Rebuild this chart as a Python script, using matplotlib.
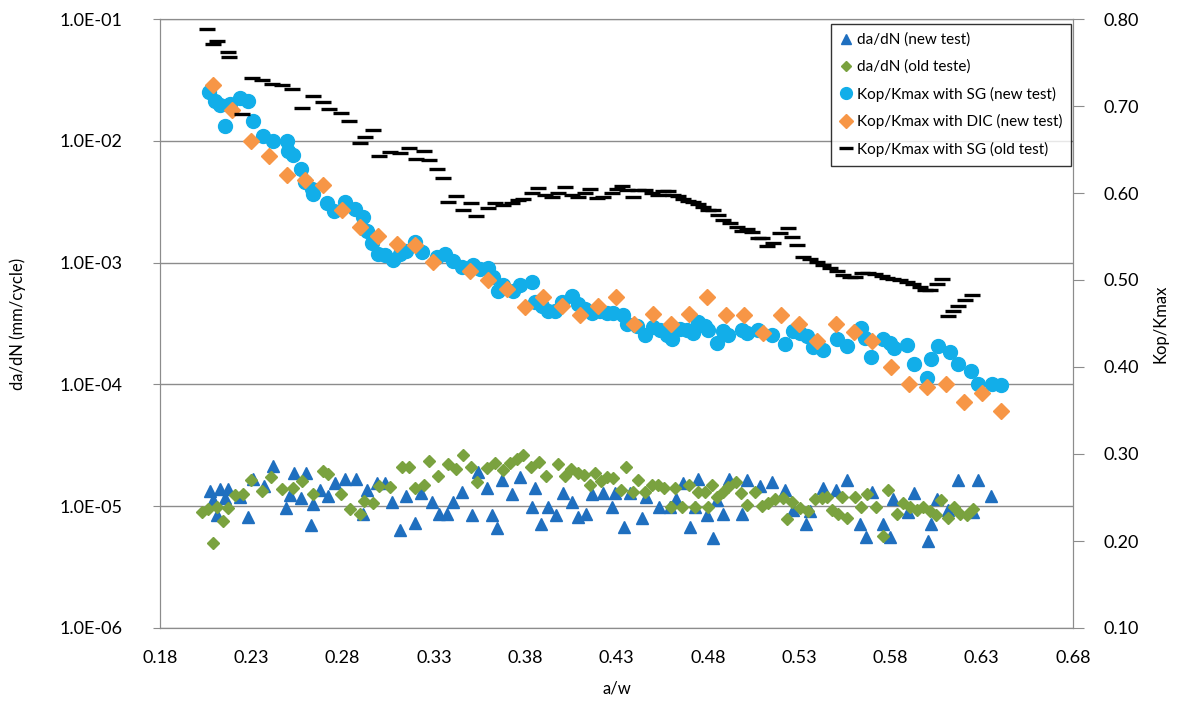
import numpy as np
import matplotlib
matplotlib.use("Agg")
import matplotlib.pyplot as plt
from matplotlib.ticker import FuncFormatter, NullLocator, FixedLocator

plt.rcParams['font.family'] = ['Lato', 'DejaVu Sans']

# --- da/dN, new test (left axis, mm/cycle) ---
dadn_new_aw = [0.2074, 0.2092, 0.2111, 0.2129, 0.2156, 0.2174, 0.2238, 0.2284, 0.2311, 0.2370,
               0.2417, 0.2490, 0.2512, 0.2536, 0.2572, 0.2598, 0.2626, 0.2640, 0.2676, 0.2718,
               0.2758, 0.2813, 0.2872, 0.2913, 0.2932, 0.2987, 0.3032, 0.3069, 0.3114, 0.3145,
               0.3196, 0.3227, 0.3288, 0.3330, 0.3370, 0.3406, 0.3452, 0.3510, 0.3543, 0.3592,
               0.3620, 0.3648, 0.3671, 0.3729, 0.3772, 0.3836, 0.3854, 0.3887, 0.3923, 0.3969,
               0.4005, 0.4055, 0.4091, 0.4133, 0.4164, 0.4224, 0.4277, 0.4291, 0.4342, 0.4374,
               0.4438, 0.4460, 0.4532, 0.4593, 0.4626, 0.4663, 0.4703, 0.4730, 0.4748, 0.4794,
               0.4830, 0.4849, 0.4885, 0.4918, 0.4986, 0.5016, 0.5086, 0.5150, 0.5223, 0.5268,
               0.5336, 0.5360, 0.5433, 0.5502, 0.5564, 0.5634, 0.5666, 0.5697, 0.5761, 0.5798,
               0.5816, 0.5895, 0.5931, 0.6004, 0.6022, 0.6054, 0.6117, 0.6172, 0.6250, 0.6281,
               0.6350]
dadn_new = [1.34e-5, 1.12e-5, 0.85e-5, 1.38e-5, 1.16e-5, 1.38e-5, 1.20e-5, 0.82e-5, 1.66e-5, 1.46e-5,
            2.14e-5, 0.96e-5, 1.24e-5, 1.88e-5, 1.17e-5, 1.86e-5, 0.70e-5, 1.04e-5, 1.36e-5, 1.21e-5,
            1.56e-5, 1.66e-5, 1.66e-5, 0.86e-5, 1.36e-5, 1.54e-5, 1.54e-5, 1.09e-5, 0.64e-5, 1.21e-5,
            0.73e-5, 1.28e-5, 1.09e-5, 0.86e-5, 0.86e-5, 1.09e-5, 1.32e-5, 0.84e-5, 1.92e-5, 1.40e-5,
            0.84e-5, 0.66e-5, 1.64e-5, 1.26e-5, 1.75e-5, 0.99e-5, 1.40e-5, 0.71e-5, 0.99e-5, 0.85e-5,
            1.29e-5, 1.09e-5, 0.82e-5, 0.86e-5, 1.26e-5, 1.29e-5, 0.99e-5, 1.29e-5, 0.67e-5, 1.29e-5,
            0.80e-5, 1.18e-5, 0.99e-5, 0.99e-5, 1.15e-5, 1.54e-5, 0.67e-5, 0.98e-5, 1.66e-5, 0.85e-5,
            0.545e-5, 1.12e-5, 0.86e-5, 1.66e-5, 0.86e-5, 1.64e-5, 1.47e-5, 1.59e-5, 1.36e-5, 0.93e-5,
            0.71e-5, 0.92e-5, 1.40e-5, 1.36e-5, 1.64e-5, 0.72e-5, 0.56e-5, 1.32e-5, 0.71e-5, 0.555e-5,
            1.15e-5, 0.90e-5, 1.28e-5, 0.52e-5, 0.72e-5, 1.14e-5, 0.93e-5, 1.64e-5, 0.90e-5, 1.64e-5,
            1.21e-5]

# --- da/dN, old test (left axis) ---
dadn_old_aw = [0.2028, 0.2065, 0.2092, 0.2111, 0.2147, 0.2174, 0.2211, 0.2253, 0.2298, 0.2357,
               0.2408, 0.2466, 0.2527, 0.2579, 0.2640, 0.2691, 0.2722, 0.2791, 0.2841, 0.2895,
               0.2919, 0.2965, 0.3001, 0.3060, 0.3124, 0.3165, 0.3196, 0.3247, 0.3274, 0.3323,
               0.3379, 0.3421, 0.3458, 0.3502, 0.3538, 0.3592, 0.3635, 0.3677, 0.3717, 0.3757,
               0.3790, 0.3832, 0.3876, 0.3914, 0.3978, 0.4020, 0.4051, 0.4091, 0.4124, 0.4155,
               0.4182, 0.4215, 0.4246, 0.4283, 0.4325, 0.4350, 0.4389, 0.4419, 0.4456, 0.4493,
               0.4529, 0.4560, 0.4598, 0.4620, 0.4657, 0.4699, 0.4730, 0.4748, 0.4785, 0.4803,
               0.4821, 0.4849, 0.4885, 0.4912, 0.4955, 0.4982, 0.5013, 0.5058, 0.5095, 0.5131,
               0.5168, 0.5213, 0.5235, 0.5259, 0.5305, 0.5350, 0.5387, 0.5424, 0.5451, 0.5478,
               0.5515, 0.5533, 0.5564, 0.5606, 0.5637, 0.5673, 0.5721, 0.5758, 0.5789, 0.5834,
               0.5871, 0.5907, 0.5944, 0.5980, 0.6017, 0.6050, 0.6077, 0.6117, 0.6150, 0.6181,
               0.6218, 0.6250]
dadn_old = [0.90e-5, 0.94e-5, 0.50e-5, 0.98e-5, 0.75e-5, 0.96e-5, 1.24e-5, 1.26e-5, 1.64e-5, 1.33e-5,
            1.75e-5, 1.38e-5, 1.40e-5, 1.62e-5, 1.26e-5, 1.96e-5, 1.84e-5, 1.26e-5, 0.94e-5, 0.86e-5,
            1.11e-5, 1.06e-5, 1.46e-5, 1.45e-5, 2.09e-5, 2.09e-5, 1.40e-5, 1.49e-5, 2.36e-5, 1.77e-5,
            2.22e-5, 2.01e-5, 2.63e-5, 2.09e-5, 1.59e-5, 2.05e-5, 2.25e-5, 1.98e-5, 2.25e-5, 2.43e-5,
            2.63e-5, 2.11e-5, 2.32e-5, 1.78e-5, 2.22e-5, 1.77e-5, 2.01e-5, 1.88e-5, 1.80e-5, 1.49e-5,
            1.86e-5, 1.61e-5, 1.73e-5, 1.69e-5, 1.36e-5, 2.11e-5, 1.32e-5, 1.64e-5, 1.32e-5, 1.49e-5,
            1.49e-5, 1.40e-5, 0.99e-5, 1.40e-5, 0.98e-5, 1.49e-5, 0.98e-5, 1.32e-5, 1.32e-5, 0.98e-5,
            1.49e-5, 1.18e-5, 1.32e-5, 1.45e-5, 1.59e-5, 1.29e-5, 1.02e-5, 1.32e-5, 1.00e-5, 1.06e-5,
            1.14e-5, 1.16e-5, 0.785e-5, 1.09e-5, 0.96e-5, 0.92e-5, 1.14e-5, 1.16e-5, 1.20e-5, 0.93e-5,
            0.86e-5, 1.20e-5, 0.80e-5, 1.20e-5, 0.98e-5, 1.26e-5, 0.98e-5, 0.57e-5, 1.36e-5, 0.86e-5,
            1.06e-5, 0.98e-5, 0.93e-5, 0.99e-5, 0.92e-5, 0.85e-5, 1.12e-5, 0.80e-5, 0.98e-5, 0.87e-5,
            0.85e-5, 0.94e-5]

# --- Kop/Kmax with strain gauge, new test (right axis) ---
sg_new_aw = [0.2070, 0.2101, 0.2129, 0.2156, 0.2183, 0.2238, 0.2284, 0.2311, 0.2366, 0.2417,
             0.2494, 0.2503, 0.2530, 0.2571, 0.2594, 0.2631, 0.2636, 0.2713, 0.2753, 0.2813,
             0.2868, 0.2910, 0.2935, 0.2959, 0.2996, 0.3032, 0.3078, 0.3114, 0.3147, 0.3196,
             0.3233, 0.3315, 0.3361, 0.3406, 0.3452, 0.3516, 0.3552, 0.3598, 0.3625, 0.3653,
             0.3680, 0.3735, 0.3772, 0.3836, 0.3854, 0.3890, 0.3927, 0.3963, 0.4000, 0.4055,
             0.4091, 0.4128, 0.4164, 0.4210, 0.4246, 0.4283, 0.4337, 0.4356, 0.4411, 0.4456,
             0.4502, 0.4538, 0.4575, 0.4602, 0.4648, 0.4684, 0.4720, 0.4748, 0.4785, 0.4803,
             0.4849, 0.4885, 0.4912, 0.4986, 0.5013, 0.5077, 0.5150, 0.5223, 0.5268, 0.5305,
             0.5342, 0.5378, 0.5433, 0.5506, 0.5564, 0.5637, 0.5661, 0.5692, 0.5761, 0.5798,
             0.5820, 0.5893, 0.5929, 0.6002, 0.6021, 0.6059, 0.6126, 0.6169, 0.6240, 0.6278,
             0.6355, 0.6406]
sg_new = [0.716, 0.706, 0.701, 0.677, 0.702, 0.709, 0.706, 0.683, 0.665, 0.660,
          0.660, 0.648, 0.644, 0.628, 0.613, 0.605, 0.599, 0.589, 0.579, 0.590,
          0.582, 0.572, 0.556, 0.543, 0.530, 0.529, 0.523, 0.530, 0.533, 0.544,
          0.532, 0.526, 0.530, 0.522, 0.515, 0.517, 0.513, 0.514, 0.504, 0.487,
          0.494, 0.487, 0.494, 0.498, 0.475, 0.470, 0.464, 0.464, 0.475, 0.482,
          0.472, 0.467, 0.462, 0.464, 0.462, 0.462, 0.460, 0.449, 0.447, 0.437,
          0.446, 0.443, 0.437, 0.432, 0.444, 0.443, 0.439, 0.452, 0.447, 0.443,
          0.428, 0.441, 0.437, 0.443, 0.439, 0.443, 0.437, 0.427, 0.441, 0.439,
          0.436, 0.423, 0.420, 0.432, 0.424, 0.445, 0.433, 0.411, 0.432, 0.428,
          0.422, 0.425, 0.404, 0.387, 0.409, 0.424, 0.417, 0.404, 0.395, 0.381,
          0.381, 0.379]

# --- Kop/Kmax with DIC, new test (right axis) ---
dic_new_aw = [0.2092, 0.2193, 0.2297, 0.2397, 0.2494, 0.2594, 0.2694, 0.2798, 0.2895, 0.2996,
              0.3096, 0.3196, 0.3297, 0.3498, 0.3598, 0.3699, 0.3799, 0.3899, 0.4000, 0.4100,
              0.4197, 0.4297, 0.4396, 0.4498, 0.4597, 0.4699, 0.4797, 0.4898, 0.4998, 0.5101,
              0.5199, 0.5299, 0.5400, 0.5500, 0.5601, 0.5701, 0.5802, 0.5902, 0.6002, 0.6103,
              0.6203, 0.6303, 0.6404]
dic_new = [0.724, 0.695, 0.660, 0.642, 0.621, 0.615, 0.609, 0.580, 0.561, 0.551,
           0.541, 0.540, 0.521, 0.510, 0.500, 0.490, 0.469, 0.480, 0.470, 0.460,
           0.470, 0.480, 0.449, 0.461, 0.450, 0.461, 0.480, 0.460, 0.460, 0.439,
           0.460, 0.450, 0.430, 0.450, 0.440, 0.430, 0.400, 0.380, 0.377, 0.380,
           0.360, 0.370, 0.350]

# --- Kop/Kmax with strain gauge, old test (right axis) ---
sg_old_aw = [0.2056, 0.2090, 0.2111, 0.2172, 0.2180, 0.2249, 0.2302, 0.2357, 0.2412, 0.2466,
             0.2521, 0.2576, 0.2640, 0.2691, 0.2727, 0.2791, 0.2837, 0.2895, 0.2923, 0.2965,
             0.3001, 0.3060, 0.3114, 0.3164, 0.3202, 0.3246, 0.3275, 0.3319, 0.3348, 0.3379,
             0.3421, 0.3458, 0.3503, 0.3531, 0.3598, 0.3635, 0.3680, 0.3726, 0.3762, 0.3790,
             0.3836, 0.3872, 0.3908, 0.3945, 0.3981, 0.4018, 0.4055, 0.4091, 0.4128, 0.4155,
             0.4192, 0.4228, 0.4274, 0.4301, 0.4328, 0.4356, 0.4392, 0.4419, 0.4456, 0.4493,
             0.4529, 0.4556, 0.4584, 0.4611, 0.4638, 0.4666, 0.4693, 0.4721, 0.4748, 0.4775,
             0.4803, 0.4830, 0.4858, 0.4885, 0.4921, 0.4958, 0.4986, 0.5013, 0.5040, 0.5073,
             0.5095, 0.5122, 0.5159, 0.5195, 0.5241, 0.5259, 0.5287, 0.5323, 0.5360, 0.5396,
             0.5433, 0.5469, 0.5506, 0.5542, 0.5579, 0.5606, 0.5643, 0.5679, 0.5716, 0.5752,
             0.5779, 0.5816, 0.5853, 0.5889, 0.5925, 0.5962, 0.5989, 0.6017, 0.6054, 0.6081,
             0.6117, 0.6144, 0.6172, 0.6209, 0.6245]
sg_old = [0.789, 0.771, 0.775, 0.762, 0.756, 0.691, 0.732, 0.730, 0.725, 0.724,
          0.720, 0.698, 0.712, 0.705, 0.696, 0.692, 0.683, 0.658, 0.664, 0.672,
          0.642, 0.647, 0.646, 0.652, 0.639, 0.648, 0.638, 0.628, 0.617, 0.590,
          0.597, 0.581, 0.589, 0.574, 0.583, 0.589, 0.586, 0.588, 0.592, 0.593,
          0.600, 0.606, 0.598, 0.595, 0.600, 0.607, 0.598, 0.595, 0.600, 0.605,
          0.594, 0.595, 0.600, 0.605, 0.608, 0.603, 0.595, 0.603, 0.603, 0.600,
          0.598, 0.602, 0.602, 0.598, 0.596, 0.593, 0.591, 0.590, 0.587, 0.584,
          0.580, 0.581, 0.575, 0.569, 0.565, 0.561, 0.556, 0.559, 0.555, 0.548,
          0.548, 0.539, 0.543, 0.554, 0.560, 0.549, 0.540, 0.527, 0.524, 0.521,
          0.517, 0.514, 0.510, 0.506, 0.503, 0.503, 0.508, 0.508, 0.507, 0.505,
          0.502, 0.501, 0.500, 0.498, 0.495, 0.492, 0.489, 0.488, 0.495, 0.501,
          0.459, 0.464, 0.470, 0.477, 0.483]

left_ticks = [1e-6, 1e-5, 1e-4, 1e-3, 1e-2, 1e-1]
right_ticks = [0.1, 0.2, 0.3, 0.4, 0.5, 0.6, 0.7, 0.8]
x_ticks = [0.18, 0.23, 0.28, 0.33, 0.38, 0.43, 0.48, 0.53, 0.58, 0.63, 0.68]

GRID = '#8c8c8c'

fig = plt.figure(figsize=(11.84, 7.11), dpi=100)
ax = fig.add_axes([160 / 1184, 1 - 628 / 711, 913 / 1184, 609 / 711])

ax.plot(dadn_new_aw, dadn_new, ls='none', marker='^', ms=9, color='#1f6fbf',
        label='da/dN (new test)', zorder=3)
ax.plot(dadn_old_aw, dadn_old, ls='none', marker='D', ms=6.2, color='#7aa23f',
        label='da/dN (old teste)', zorder=3)

ax.set_yscale('log')
ax.set_ylim(1e-6, 1e-1)
ax.set_xlim(0.18, 0.68)
ax.yaxis.set_major_locator(FixedLocator(left_ticks))
ax.yaxis.set_minor_locator(NullLocator())
ax.yaxis.set_major_formatter(FuncFormatter(lambda v, p: f"{v:.1E}"))
ax.set_xticks(x_ticks)
ax.xaxis.set_major_formatter(FuncFormatter(lambda v, p: f"{v:.2f}"))
ax.grid(axis='y', color=GRID, lw=1)
ax.tick_params(axis='y', length=5, color=GRID, labelsize=13, pad=22)
ax.tick_params(axis='x', length=0, labelsize=13, pad=16)
for s in ax.spines.values():
    s.set_color(GRID)
ax.set_xlabel('a/w', fontsize=12, labelpad=10)
ax.set_ylabel('da/dN (mm/cycle)', fontsize=12, labelpad=24)

ax2 = ax.twinx()
ax2.plot(sg_new_aw, sg_new, ls='none', marker='o', ms=10, color='#12aee9',
         label='Kop/Kmax with SG (new test)')
ax2.plot(dic_new_aw, dic_new, ls='none', marker='D', ms=7.8, color='#f79646',
         label='Kop/Kmax with DIC (new test)')
ax2.plot(sg_old_aw, sg_old, ls='none', marker='_', ms=11.5, mew=2.4, color='black',
         label='Kop/Kmax with SG (old test)')
ax2.set_ylim(0.1, 0.8)
ax2.set_yticks(right_ticks)
ax2.yaxis.set_major_formatter(FuncFormatter(lambda v, p: f"{v:.2f}"))
ax2.tick_params(axis='y', length=8, color=GRID, labelsize=13, pad=14)
for s in ax2.spines.values():
    s.set_color(GRID)
ax2.set_ylabel('Kop/Kmax', fontsize=12, labelpad=10)

h1, l1 = ax.get_legend_handles_labels()
h2, l2 = ax2.get_legend_handles_labels()
leg = ax2.legend(h1 + h2, l1 + l2, loc='upper right', bbox_to_anchor=(1.0, 0.995),
                 fontsize=11, frameon=True, fancybox=False, edgecolor='black',
                 handlelength=0.8, handletextpad=0.3, labelspacing=0.82,
                 borderpad=0.6, borderaxespad=0.1, markerscale=0.85)
leg.get_frame().set_linewidth(1.0)

fig.savefig('out.png', dpi=100)
